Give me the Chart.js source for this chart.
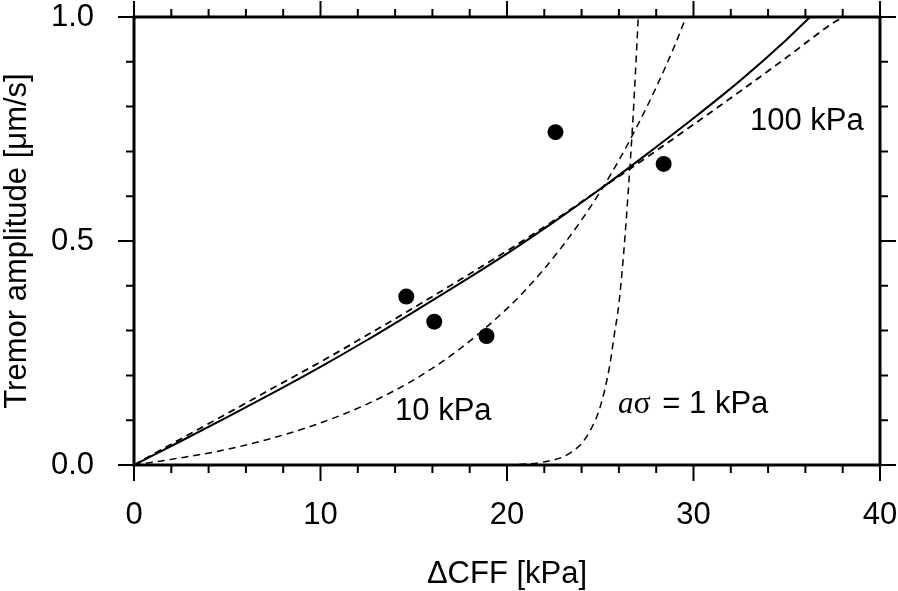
<!DOCTYPE html>
<html>
<head>
<meta charset="utf-8">
<script src="https://cdn.jsdelivr.net/npm/chart.js@4.4.0/dist/chart.umd.min.js"></script>
<style>
  html, body { margin: 0; padding: 0; background: #fff; }
  #wrap { width: 898px; height: 591px; }
</style>
</head>
<body>
<div id="wrap"><canvas id="chart" width="898" height="591"></canvas></div>
<script>
// Observaciones (ΔCFF, amplitud)
const obsX = [14.6, 16.1, 18.9, 22.6, 28.4];
const obsY = [0.376, 0.32, 0.288, 0.743, 0.672];

// Curva continua (ajuste)
const fitX = [0, 2.5, 5, 7.5, 10, 12.5, 15, 17.5, 20, 22.5, 25, 27.5, 30, 32.5, 35, 36.25];
const fitY = [0, 0.053, 0.107, 0.162, 0.219, 0.279, 0.342, 0.406, 0.472, 0.542, 0.616, 0.694, 0.774, 0.858, 0.95, 1.0];

// aσ = 100 kPa
const as100X = [0, 2.5, 5, 7.5, 10, 12.5, 15, 17.5, 20, 22.5, 25, 27.5, 30, 32.5, 35, 37.5, 38.05];
const as100Y = [0, 0.058, 0.115, 0.173, 0.23, 0.29, 0.351, 0.414, 0.478, 0.545, 0.616, 0.687, 0.76, 0.834, 0.91, 0.987, 1.0];

// aσ = 10 kPa
const as10X = [0, 2.5, 5, 7.5, 10, 12.5, 15, 17.5, 20, 21, 22, 23, 24, 25, 26, 27, 28, 29, 29.6];
const as10Y = [0, 0.016, 0.035, 0.061, 0.094, 0.136, 0.19, 0.26, 0.349, 0.391, 0.438, 0.49, 0.547, 0.61, 0.68, 0.758, 0.843, 0.937, 1.0];

// aσ = 1 kPa
const as1X = [20, 21, 22, 23, 23.5, 24, 24.5, 25, 25.5, 25.75, 26, 26.25, 26.5, 26.75, 27.04];
const as1Y = [0, 0.002, 0.007, 0.018, 0.03, 0.048, 0.08, 0.13, 0.22, 0.29, 0.36, 0.47, 0.61, 0.77, 1.0];

// Ejes
const xMin = 0, xMax = 40, xStep = 2, xMajor = 10;
const yMin = 0, yMax = 1, yStep = 0.1, yMajor = 0.5;

const sans = "'Liberation Sans', Arial, Helvetica, sans-serif";
const serif = "'Liberation Serif', 'Times New Roman', serif";

function toPoints(xs, ys) {
  return xs.map((x, i) => ({ x: x, y: ys[i] }));
}

function isMajor(v, step) {
  return Math.abs(v / step - Math.round(v / step)) < 1e-6;
}

function curve(xs, ys, width, dash) {
  return {
    data: toPoints(xs, ys),
    showLine: true,
    borderColor: "#000",
    borderWidth: width,
    borderDash: dash,
    pointRadius: 0,
    cubicInterpolationMode: "monotone",
    fill: false,
  };
}

// Marco y marcas de los ejes (mayores largas, menores cortas)
const frameTicks = {
  id: "frameTicks",
  afterDraw(chart) {
    const { ctx, chartArea: a, scales } = chart;
    ctx.save();
    ctx.strokeStyle = "#000";
    ctx.lineWidth = 2;
    ctx.beginPath();
    scales.x.ticks.forEach(function (t) {
      const px = scales.x.getPixelForValue(t.value);
      const len = isMajor(t.value, xMajor) ? 16 : 8;
      ctx.moveTo(px, a.bottom); ctx.lineTo(px, a.bottom + len);
      ctx.moveTo(px, a.top); ctx.lineTo(px, a.top - len);
    });
    scales.y.ticks.forEach(function (t) {
      const py = scales.y.getPixelForValue(t.value);
      const len = isMajor(t.value, yMajor) ? 16 : 8;
      ctx.moveTo(a.left, py); ctx.lineTo(a.left - len, py);
      ctx.moveTo(a.right, py); ctx.lineTo(a.right + len, py);
    });
    ctx.stroke();
    ctx.lineWidth = 3;
    ctx.strokeRect(a.left, a.top, a.right - a.left, a.bottom - a.top);
    ctx.restore();
  },
};

// Etiquetas de las curvas
const curveLabels = {
  id: "curveLabels",
  afterDatasetsDraw(chart) {
    const { ctx, scales } = chart;
    const labels = [
      { x: 14.0, y: 0.1, parts: [["10 kPa", "31px " + sans, 0]] },
      { x: 33.03, y: 0.748, parts: [["100 kPa", "31px " + sans, 0]] },
      { x: 25.95, y: 0.116, parts: [["a", "italic 31px " + serif, 0], ["σ", "32px " + serif, 3], [" = 1 kPa", "31px " + sans, 0]] },
    ];
    ctx.save();
    ctx.fillStyle = "#000";
    ctx.textBaseline = "alphabetic";
    ctx.textAlign = "left";
    labels.forEach(function (l) {
      let px = scales.x.getPixelForValue(l.x);
      const py = scales.y.getPixelForValue(l.y);
      l.parts.forEach(function (p) {
        ctx.font = p[1];
        ctx.fillText(p[0], px, py);
        px += ctx.measureText(p[0]).width + p[2];
      });
    });
    ctx.restore();
  },
};

const ctx = document.getElementById("chart").getContext("2d");
new Chart(ctx, {
  type: "scatter",
  data: {
    datasets: [
      curve(as1X, as1Y, 1.5, [7, 5]),
      curve(as10X, as10Y, 1.5, [7, 5]),
      curve(as100X, as100Y, 1.8, [7, 5]),
      curve(fitX, fitY, 2, []),
      {
        data: toPoints(obsX, obsY),
        showLine: false,
        pointRadius: 8,
        pointBackgroundColor: "#000",
        pointBorderWidth: 0,
      },
    ],
  },
  options: {
    responsive: false,
    animation: false,
    layout: { padding: { left: 0, right: 18, top: 17, bottom: 0 } },
    plugins: { legend: { display: false }, tooltip: { enabled: false } },
    scales: {
      x: {
        type: "linear",
        min: xMin,
        max: xMax,
        grid: { display: false },
        border: { display: false },
        ticks: {
          stepSize: xStep,
          autoSkip: false,
          maxRotation: 0,
          padding: 24,
          color: "#000",
          font: { family: sans, size: 31 },
          callback: (v) => (isMajor(v, xMajor) ? String(Math.round(v)) : ""),
        },
        title: {
          display: true,
          text: "ΔCFF [kPa]",
          color: "#000",
          font: { family: sans, size: 31, lineHeight: 1 },
          padding: { top: 0, bottom: 1 },
        },
        afterFit: function (s) {
          s.height = 126;
          s.paddingLeft = 0;
          s.paddingRight = 0;
        },
      },
      y: {
        type: "linear",
        min: yMin,
        max: yMax,
        grid: { display: false },
        border: { display: false },
        ticks: {
          stepSize: yStep,
          autoSkip: false,
          padding: 32,
          color: "#000",
          font: { family: sans, size: 31, lineHeight: 1 },
          callback: (v) => (isMajor(v, yMajor) ? v.toFixed(1) : ""),
        },
        title: {
          display: true,
          text: "Tremor amplitude [μm/s]",
          color: "#000",
          font: { family: sans, size: 31, lineHeight: 1 },
          padding: { top: 2, bottom: 0 },
        },
        afterFit: function (s) {
          s.width = 134;
          s.paddingTop = 0;
          s.paddingBottom = 0;
        },
      },
    },
  },
  plugins: [frameTicks, curveLabels],
});
</script>
</body>
</html>
